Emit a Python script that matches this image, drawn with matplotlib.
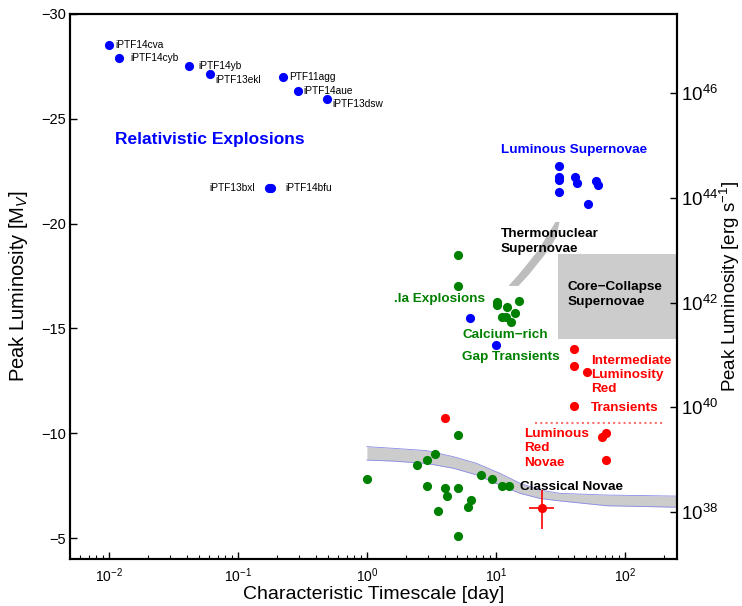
import matplotlib
matplotlib.use('Agg')
import matplotlib.pyplot as plt
import numpy as np
from matplotlib.ticker import NullLocator, LogLocator

plt.rcParams['font.family'] = ['Liberation Sans', 'DejaVu Sans']
plt.rcParams['mathtext.fontset'] = 'custom'
plt.rcParams['mathtext.rm'] = 'Liberation Sans'
plt.rcParams['mathtext.it'] = 'Liberation Sans:italic'
plt.rcParams['mathtext.bf'] = 'Liberation Sans:bold'

# relativistic explosions (blue, named)
rel_names = ['iPTF14cva', 'iPTF14cyb', 'iPTF14yb', 'iPTF13ekl', 'PTF11agg',
             'iPTF14aue', 'iPTF13dsw', 'iPTF13bxl', 'iPTF14bfu']
rel_t = [0.010, 0.012, 0.042, 0.061, 0.222, 0.29, 0.49, 0.175, 0.181]
rel_m = [-28.52, -27.91, -27.52, -27.12, -26.98, -26.33, -25.93, -21.71, -21.71]

# luminous supernovae (blue)
slsn_t = [30.6, 30.6, 30.6, 31.0, 40.7, 42.2, 59.6, 62.1, 52.0]
slsn_m = [-22.73, -22.24, -22.08, -21.51, -22.24, -21.95, -22.03, -21.83, -20.94]

# other fast blue transients
blue_t = [6.3, 10.1]
blue_m = [-15.51, -14.21]

# green: .Ia / Ca-rich / faint transients
green_t = [5.05, 5.05, 10.2, 10.2, 12.1, 15.2, 14.0, 11.1, 12.0, 13.0,
           1.01, 2.43, 2.94, 3.37, 2.94, 4.05, 5.05, 4.15, 3.53, 6.1, 6.4,
           5.05, 5.05, 7.6, 9.27, 11.07, 12.6]
green_m = [-18.52, -17.02, -16.27, -16.12, -16.01, -16.32, -15.72, -15.53, -15.53, -15.32,
           -7.81, -8.5, -8.7, -9.02, -7.49, -7.39, -7.39, -7.0, -6.30, -6.49, -6.81,
           -5.11, -9.91, -8.0, -7.8, -7.5, -7.5]

# red: ILRT / LRN
red_t = [40.5, 40.5, 50.5, 40.5, 4.02, 71.3, 66.7, 70.8]
red_m = [-14.02, -13.22, -12.93, -11.31, -10.71, -10.02, -9.83, -8.72]

# red point with error bars
err_t = 22.7
err_m = -6.42
err_t_lo, err_t_hi = 17.9, 28.1
err_m_bright, err_m_faint = -7.29, -5.42

# ILRT / LRN dividing line
div_t = [20, 202]
div_m = [-10.47, -10.47]

# core-collapse box
cc_t = [30.5, 300]
cc_m_top, cc_m_bot = -18.54, -14.49

# thermonuclear (Ia) band
ia_m = [-17.05, -17.6, -18.2, -18.8, -19.4, -20.1]
ia_left = [12.4, 14.9, 17.9, 21.4, 24.4, 28.7]
ia_right = [14.8, 17.9, 21.4, 25.6, 29.2, 30.8]

# classical novae band
nova_t = [1.0, 1.6, 2.9, 4.67, 7.09, 10.7, 15.4, 21.9, 31.4, 72.5, 253]
nova_up = [-9.36, -9.28, -9.17, -8.88, -8.56, -8.09, -7.61, -7.29, -7.13, -7.05, -7.0]
nova_lo = [-8.72, -8.67, -8.56, -8.33, -8.01, -7.53, -7.13, -6.89, -6.77, -6.54, -6.47]

# label offsets (points) for the relativistic events
rel_offsets = [(5, 0), (8.5, 0), (6.5, 0), (4, -4), (4.5, 0), (4.5, 0), (4, -3.5), (-10, 0), (10, 0)]


def lum(m):
    # peak luminosity from absolute magnitude
    return 10 ** (46 + (-26.23 - m) / 2.5)


fig = plt.figure(figsize=(7.42, 6.06), dpi=100)
ax = fig.add_axes([0.0943, 0.0776, 0.8181, 0.8993])

ax.set_xscale('log')
ax.set_xlim(0.005, 253)
ax.set_ylim(-4, -30)

ax.fill_between(cc_t, cc_m_top, cc_m_bot, color='#cccccc', lw=0, zorder=1)
ax.fill_betweenx(ia_m, ia_left, ia_right, color='#bdbdbd', lw=0, zorder=1)
ax.fill_between(nova_t, nova_up, nova_lo, color='#cccccc', lw=0, zorder=1)
ax.plot(nova_t, nova_up, color='#8a8ae8', lw=0.6, zorder=1.5)
ax.plot(nova_t, nova_lo, color='#8a8ae8', lw=0.6, zorder=1.5)
ax.plot(div_t, div_m, color='#ff7070', lw=1.5, ls=(0, (1, 1.5)), zorder=1.5)

ms = 6.6
ax.plot(rel_t, rel_m, 'o', color='#0000ff', ms=ms, mew=0, zorder=3)
ax.plot(slsn_t, slsn_m, 'o', color='#0000ff', ms=ms, mew=0, zorder=3)
ax.plot(blue_t, blue_m, 'o', color='#0000ff', ms=ms, mew=0, zorder=3)
ax.plot(green_t, green_m, 'o', color='#008000', ms=ms, mew=0, zorder=3)
ax.plot(red_t, red_m, 'o', color='#ff0000', ms=ms, mew=0, zorder=3)
ax.errorbar([err_t], [err_m],
            xerr=[[err_t - err_t_lo], [err_t_hi - err_t]],
            yerr=[[err_m - err_m_bright], [err_m_faint - err_m]],
            fmt='o', color='#ff0000', ms=ms, mew=0, elinewidth=1.2, capsize=0, zorder=3)

for name, t, m, off in zip(rel_names, rel_t, rel_m, rel_offsets):
    ax.annotate(name, (t, m), xytext=off, textcoords='offset points',
                ha='right' if off[0] < 0 else 'left', va='center', fontsize=7.3)

bold = dict(fontweight='bold', va='center', ha='left')
ax.text(0.0111, -23.99, 'Relativistic Explosions', color='#0000ff', fontsize=12.5, **bold)
ax.text(10.9, -23.50, 'Luminous Supernovae', color='#0000ff', fontsize=9.7, **bold)
ax.text(10.9, -19.14, 'Thermonuclear\nSupernovae', color='black', fontsize=9.7, linespacing=1.3, **bold)
ax.text(35.9, -16.63, 'Core\u2212Collapse\nSupernovae', color='black', fontsize=9.7, linespacing=1.3, **bold)
ax.text(8.22, -16.39, '.Ia Explosions', color='#008000', fontsize=9.7, fontweight='bold', va='center', ha='right')
ax.text(5.48, -14.69, 'Calcium\u2212rich', color='#008000', fontsize=9.7, **bold)
ax.text(5.48, -13.65, 'Gap Transients', color='#008000', fontsize=9.7, **bold)
ax.text(54.2, -12.78, 'Intermediate\nLuminosity\nRed', color='#ff0000', fontsize=9.7, linespacing=1.25, **bold)
ax.text(54.2, -11.20, 'Transients', color='#ff0000', fontsize=9.7, **bold)
ax.text(16.4, -9.28, 'Luminous\nRed\nNovae', color='#ff0000', fontsize=9.7, linespacing=1.3, **bold)
ax.text(15.35, -7.45, 'Classical Novae', color='black', fontsize=9.7, **bold)

ax.set_yticks([-30, -25, -20, -15, -10, -5])
ax.xaxis.set_major_locator(LogLocator(base=10, numticks=10))
ax.tick_params(which='both', direction='in', top=False, right=False)
ax.tick_params(which='major', length=5, width=1)
ax.tick_params(which='minor', length=3, width=0.8)
ax.tick_params(axis='y', labelsize=10.5, pad=3)
ax.tick_params(axis='x', labelsize=10, pad=5)
ax.set_xlabel('Characteristic Timescale [day]', fontsize=14, labelpad=1)
ax.set_ylabel('Peak Luminosity [M$_V$]', fontsize=14.5, labelpad=8)
for s in ax.spines.values():
    s.set_linewidth(1.5)

ax2 = ax.twinx()
ax2.set_yscale('log')
ax2.set_ylim(lum(-4), lum(-30))
ax2.set_yticks([1e38, 1e40, 1e42, 1e44, 1e46])
ax2.yaxis.set_minor_locator(NullLocator())
ax2.tick_params(axis='y', direction='in', length=5, width=1, labelsize=13.5, pad=3)
ax2.set_ylabel('Peak Luminosity [erg s$^{-1}$]', fontsize=13.5, labelpad=0)
for s in ax2.spines.values():
    s.set_linewidth(1.5)

fig.savefig('out.png', dpi=100)
